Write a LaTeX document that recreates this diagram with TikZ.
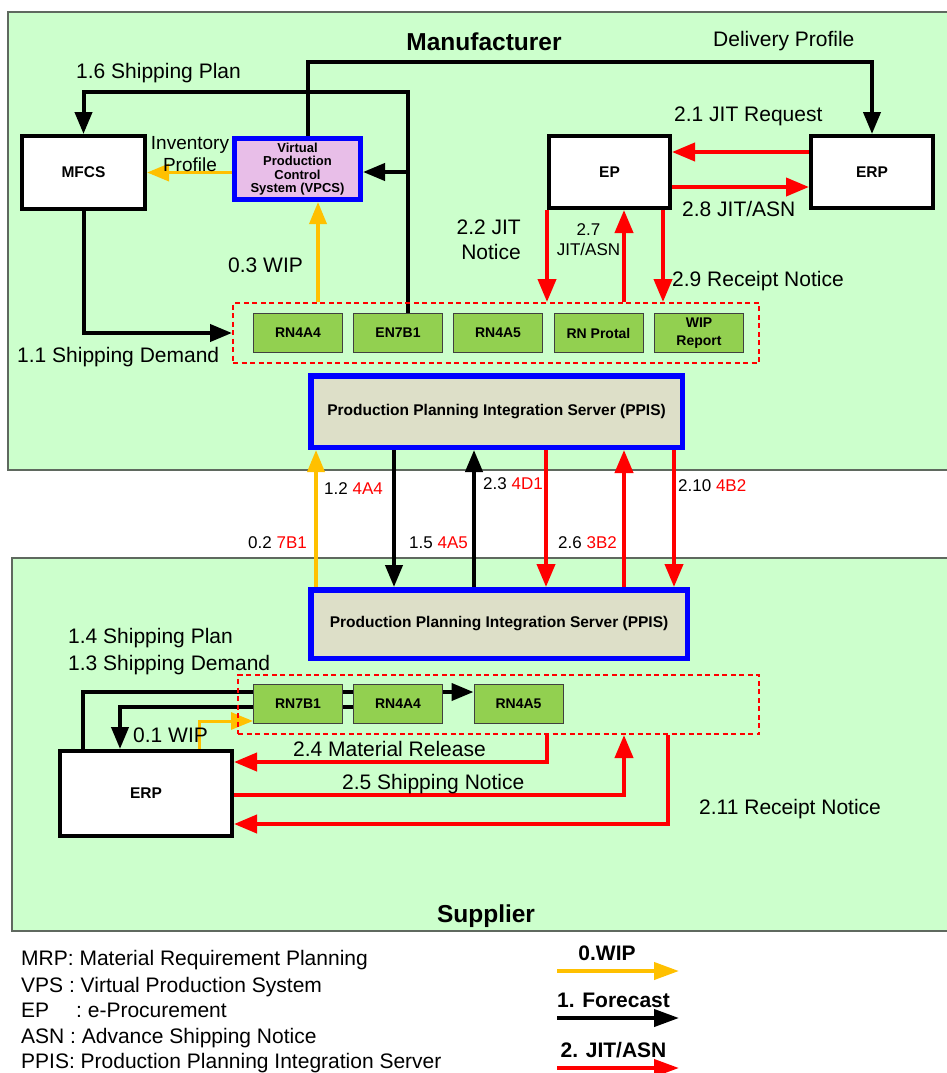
\documentclass[tikz,border=0pt]{standalone}
\usepackage{fontspec}
\setmainfont{Liberation Sans}
\usetikzlibrary{arrows.meta}
\pgfdeclarelayer{back}
\pgfdeclarelayer{mid}
\pgfsetlayers{back,mid,main}
\definecolor{bggreen}{RGB}{204,255,204}
\definecolor{framec}{RGB}{95,105,95}
\definecolor{boxgreen}{RGB}{146,208,80}
\definecolor{vpcspink}{RGB}{232,190,232}
\definecolor{ppisfill}{RGB}{221,223,200}
\definecolor{wipyel}{RGB}{255,192,0}
\definecolor{jitred}{RGB}{255,0,0}
\definecolor{ppisblue}{RGB}{0,0,255}
\begin{document}
\begin{tikzpicture}[x=1pt,y=-1pt,
 lbl/.style={inner sep=0pt,anchor=base west,font=\fontsize{21}{25}\selectfont},
 mlbl/.style={inner sep=0pt,anchor=base west,font=\fontsize{17}{20}\selectfont},
 ttl/.style={inner sep=0pt,anchor=base,font=\bfseries\fontsize{24.5}{29}\selectfont},
 lgd/.style={inner sep=0pt,anchor=base,font=\bfseries\fontsize{21}{25}\selectfont},
 sysbox/.style={draw=black,line width=4pt,fill=white,inner sep=0pt,font=\bfseries\fontsize{15.5}{18}\selectfont},
 gbox/.style={draw=black!75,line width=1pt,fill=boxgreen,minimum width=89pt,minimum height=39pt,inner sep=0pt,align=center,font=\bfseries\fontsize{14}{17.5}\selectfont},
 ppisbox/.style={draw=ppisblue,line width=5.5pt,fill=ppisfill,inner sep=0pt,font=\bfseries\fontsize{15.5}{18}\selectfont},
 dashbox/.style={draw=jitred,line width=2pt,dash pattern=on 5pt off 3.5pt,inner sep=0pt},
 blk/.style={line width=4pt,draw=black,-{Triangle[length=22pt,width=17pt]}},
 rd/.style={line width=4pt,draw=jitred,-{Triangle[length=23pt,width=18pt]}},
 yl/.style={line width=3.5pt,draw=wipyel,-{Triangle[length=22pt,width=17pt]}},
]
\useasboundingbox (0,0) rectangle (947,1073);
\begin{pgfonlayer}{back}
\fill[white] (0,0) rectangle (947,1073);
\draw[fill=bggreen,draw=framec,line width=1.5pt] (8,12) rectangle (975,470);
\draw[fill=bggreen,draw=framec,line width=1.5pt] (12,558) rectangle (975,931);
\end{pgfonlayer}

% ---------- nodes: manufacturer ----------
\node[sysbox,minimum width=123pt,minimum height=73pt] (mfcs) at (83.5,172.5) {MFCS};
\node[draw=ppisblue,line width=5pt,fill=vpcspink,minimum width=126pt,minimum height=61pt,inner sep=0pt,align=center,font=\bfseries\fontsize{13}{13.3}\selectfont] (vpcs) at (297.5,169) {Virtual\\Production\\Control\\System (VPCS)};
\node[sysbox,minimum width=121pt,minimum height=72pt] (epA) at (609.5,172) {EP};
\node[sysbox,minimum width=122pt,minimum height=72pt] (erpA) at (872,172) {ERP};
\node[dashbox,minimum width=526pt,minimum height=60pt] (dash1) at (496,333) {};
\node[gbox] (rn4a4a) at (298,333) {RN4A4};
\node[gbox] (en7b1) at (398,333) {EN7B1};
\node[gbox] (rn4a5a) at (498,333) {RN4A5};
\node[gbox] (rnp) at (598.5,333) {RN Protal};
\node[gbox] (wipr) at (699,333) {WIP\\Report};
\node[ppisbox,minimum width=371.5pt,minimum height=71.5pt] (ppisA) at (496.5,411.5) {Production Planning Integration Server (PPIS)};

% ---------- nodes: supplier ----------
\node[ppisbox,minimum width=376.5pt,minimum height=68.5pt] (ppisB) at (499,624) {Production Planning Integration Server (PPIS)};
\node[dashbox,minimum width=521pt,minimum height=59pt] (dash2) at (498.5,704.5) {};
\node[gbox] (rn7b1) at (298,704) {RN7B1};
\node[gbox] (rn4a4b) at (398,704) {RN4A4};
\node[gbox] (rn4a5b) at (518.5,704) {RN4A5};
\node[sysbox,minimum width=172pt,minimum height=85pt] (erpB) at (146,793.5) {ERP};

% ---------- connectors ----------
\begin{pgfonlayer}{mid}
\coordinate (dp) at (872,62);
\coordinate (sp) at (408,92);
\coordinate (br) at (408,172);
\draw[blk] ([xshift=10.5pt]vpcs.north) |- (dp) -- (erpA.north);
\draw[blk] ([xshift=10pt]en7b1.north) -- (sp) -| (mfcs.north);
\draw[blk] (br) -- (vpcs.east |- br);
\draw[blk] (mfcs.south) |- (dash1.west);
\draw[yl] (vpcs.west |- mfcs.east) -- (mfcs.east);
\draw[yl] ([xshift=20.5pt]vpcs.south |- dash1.north) -- ([xshift=20.5pt]vpcs.south);
\draw[rd] ([yshift=20pt]erpA.west) -- ([yshift=20pt]epA.east);
\draw[rd] ([yshift=-15pt]epA.east) -- ([yshift=-15pt]erpA.west);
\draw[rd] ([xshift=-62.5pt]epA.south) -- ([xshift=-62.5pt]epA.south |- dash1.north);
\draw[rd] ([xshift=14.5pt]epA.south |- dash1.north) -- ([xshift=14.5pt]epA.south);
\draw[rd] ([xshift=53.5pt]epA.south) -- ([xshift=53.5pt]epA.south |- dash1.north);
% between servers
\draw[yl] ([xshift=-183pt]ppisB.north) -- ([xshift=-183pt]ppisB.north |- ppisA.south);
\draw[blk] ([xshift=-105pt]ppisB.north |- ppisA.south) -- ([xshift=-105pt]ppisB.north);
\draw[blk] ([xshift=-25pt]ppisB.north) -- ([xshift=-25pt]ppisB.north |- ppisA.south);
\draw[rd] ([xshift=47pt]ppisB.north |- ppisA.south) -- ([xshift=47pt]ppisB.north);
\draw[rd] ([xshift=125pt]ppisB.north) -- ([xshift=125pt]ppisB.north |- ppisA.south);
\draw[rd] ([xshift=175pt]ppisB.north |- ppisA.south) -- ([xshift=175pt]ppisB.north);
% supplier
\draw[blk] ([xshift=-63pt]erpB.north) |- ([yshift=12pt]rn4a5b.west);
\draw[blk] ([yshift=-3pt]rn4a4b.center) -| ([xshift=-26pt]erpB.north);
\draw[yl,line width=3pt] ([xshift=53pt]erpB.north) |- ([yshift=-17pt]rn7b1.west);
\draw[rd] ([xshift=48.5pt]dash2.south) |- ([yshift=31.5pt]erpB.east);
\draw[rd] ([yshift=-1.5pt]erpB.east) -| ([xshift=125.5pt]dash2.south);
\draw[rd] ([xshift=169.5pt]dash2.south) |- ([yshift=-30.5pt]erpB.east);
% legend arrows
\coordinate (ly1) at (557,971); \coordinate (ly2) at (679,971);
\coordinate (lb1) at (557,1018); \coordinate (lb2) at (679,1018);
\coordinate (lr1) at (557,1068); \coordinate (lr2) at (679,1068);
\draw[yl,line width=4pt,-{Triangle[length=25pt,width=17pt]}] (ly1) -- (ly2);
\draw[blk,-{Triangle[length=25pt,width=17pt]}] (lb1) -- (lb2);
\draw[rd,-{Triangle[length=25pt,width=17pt]}] (lr1) -- (lr2);
\end{pgfonlayer}

% ---------- labels ----------
\node[ttl] (tman) at (484,51) {Manufacturer};
\node[ttl] (tsup) at (486,922) {Supplier};
\node[lbl] (ldp) at (713,46.5) {Delivery Profile};
\node[lbl] (l16) at (76,78.5) {1.6 Shipping Plan};
\node[inner sep=0pt,align=center,font=\fontsize{19}{22}\selectfont] (linv) at (190,154) {Inventory\\Profile};
\node[lbl] (l03) at (228,272.5) {0.3 WIP};
\node[lbl] (l11) at (17,362.5) {1.1 Shipping Demand};
\node[lbl] (l21) at (674,121.5) {2.1 JIT Request};
\node[lbl] (l28) at (682,216.5) {2.8 JIT/ASN};
\node[inner sep=0pt,anchor=base east,align=right,font=\fontsize{21}{25}\selectfont] (l22) at (521,259.5) {2.2 JIT\\Notice};
\node[inner sep=0pt,anchor=base,align=center,font=\fontsize{17}{20}\selectfont] (l27) at (588.5,255) {2.7\\JIT/ASN};
\node[lbl] (l29) at (672,286.5) {2.9 Receipt Notice};
\node[mlbl] (m12) at (324,494) {1.2 \textcolor{jitred}{4A4}};
\node[mlbl] (m23) at (483,489) {2.3 \textcolor{jitred}{4D1}};
\node[mlbl] (m210) at (678,491) {2.10 \textcolor{jitred}{4B2}};
\node[mlbl] (m02) at (248,548) {0.2 \textcolor{jitred}{7B1}};
\node[mlbl] (m15) at (409,548) {1.5 \textcolor{jitred}{4A5}};
\node[mlbl] (m26) at (558,548) {2.6 \textcolor{jitred}{3B2}};
\node[lbl] (l14) at (68,643.5) {1.4 Shipping Plan};
\node[lbl] (l13) at (68,670.5) {1.3 Shipping Demand};
\node[lbl] (l01) at (133,742.5) {0.1 WIP};
\node[lbl] (l24) at (293,756.5) {2.4 Material Release};
\node[lbl] (l25) at (342,789.5) {2.5 Shipping Notice};
\node[lbl] (l211) at (699,814.5) {2.11 Receipt Notice};
% legend text
\node[lbl] (g1) at (21,965.5) {MRP: Material Requirement Planning};
\node[lbl] (g2) at (21,992) {VPS : Virtual Production System};
\node[lbl] (g3) at (21,1017) {EP\hspace{27pt}: e-Procurement};
\node[lbl] (g4) at (21,1043) {ASN : Advance Shipping Notice};
\node[lbl] (g5) at (21,1068) {PPIS: Production Planning Integration Server};
\node[lgd] (k0) at (607,960.5) {0.WIP};
\node[lgd] (k1) at (613.5,1007.5) {1. Forecast};
\node[lgd] (k2) at (613.5,1057.5) {2. JIT/ASN};
\end{tikzpicture}
\end{document}
